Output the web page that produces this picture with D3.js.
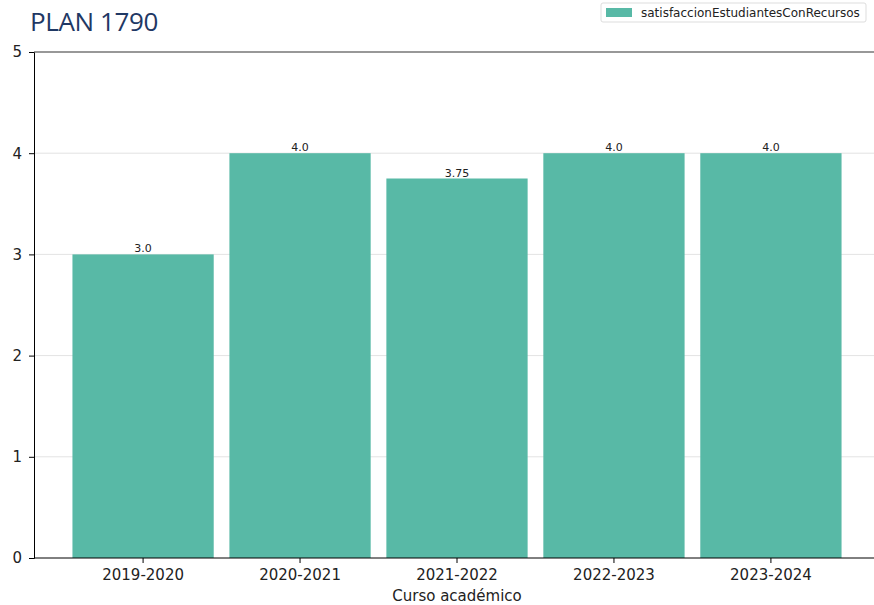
<!DOCTYPE html>
<html>
<head>
<meta charset="utf-8">
<script src="https://cdn.jsdelivr.net/npm/d3@7"></script>
<style>
  html, body { margin: 0; padding: 0; background: #fff; }
  svg { display: block; }
</style>
</head>
<body>
<svg id="chart" width="874" height="605"></svg>
<script>
// Satisfacción de estudiantes con recursos, por curso académico
const cursos = ["2019-2020", "2020-2021", "2021-2022", "2022-2023", "2023-2024"];
const satisfaccion = [3.0, 4.0, 3.75, 4.0, 4.0];
const valueLabels = ["3.0", "4.0", "3.75", "4.0", "4.0"];
const yTicks = [0, 1, 2, 3, 4, 5];
const seriesName = "satisfaccionEstudiantesConRecursos";
const titulo = "PLAN 1790";
const xTitle = "Curso académico";

const barColor = "#58b9a6";
const svg = d3.select("#chart");

const plot = { left: 34, right: 880, top: 52, bottom: 558 };

// continuous x in category units (matplotlib-style margins), band scale on top of it
const xc = d3.scaleLinear().domain([-0.695, 4.695]).range([plot.left, plot.right]);
const x = d3.scaleBand()
  .domain(cursos)
  .range([xc(-0.5), xc(4.5)])
  .paddingInner(0.1)
  .paddingOuter(0.05);

const y = d3.scaleLinear().domain([0, 5]).range([plot.bottom, plot.top]);

// horizontal grid
svg.append("g")
  .selectAll("line")
  .data(yTicks.filter(t => t > 0 && t < 5))
  .join("line")
  .attr("x1", plot.left).attr("x2", plot.right)
  .attr("y1", d => y(d)).attr("y2", d => y(d))
  .attr("stroke", "#e3e3e3").attr("stroke-width", 1);

// bars
svg.append("g")
  .selectAll("rect")
  .data(cursos)
  .join("rect")
  .attr("x", d => x(d))
  .attr("width", x.bandwidth())
  .attr("y", (d, i) => y(satisfaccion[i]))
  .attr("height", (d, i) => y(0) - y(satisfaccion[i]))
  .attr("fill", barColor);

// value labels
svg.append("g")
  .selectAll("text")
  .data(cursos)
  .join("text")
  .attr("x", d => x(d) + x.bandwidth() / 2)
  .attr("y", (d, i) => y(satisfaccion[i]) - 2)
  .attr("text-anchor", "middle")
  .attr("font-family", "DejaVu Sans, sans-serif")
  .attr("font-size", 11)
  .attr("fill", "#222")
  .text((d, i) => valueLabels[i]);

// y axis
const yAxis = svg.append("g")
  .attr("transform", `translate(${plot.left},0)`)
  .call(d3.axisLeft(y).tickValues(yTicks).tickFormat(d3.format("d")).tickSize(5).tickPadding(7));
yAxis.select(".domain").attr("stroke", "#000");
yAxis.selectAll("text").attr("font-family", "DejaVu Sans, sans-serif").attr("font-size", 15).attr("fill", "#222");

// x axis
const xAxis = svg.append("g")
  .attr("transform", `translate(0,${plot.bottom})`)
  .call(d3.axisBottom(x).tickSize(5).tickPadding(6).tickSizeOuter(0));
xAxis.select(".domain").remove();
xAxis.append("line").attr("x1", plot.left).attr("x2", plot.right).attr("stroke", "#000");
xAxis.selectAll("text").attr("font-family", "DejaVu Sans, sans-serif").attr("font-size", 15).attr("fill", "#222");

// top spine
svg.append("line")
  .attr("x1", plot.left).attr("x2", plot.right)
  .attr("y1", plot.top).attr("y2", plot.top)
  .attr("stroke", "#333").attr("stroke-width", 1.2);

// x title
svg.append("text")
  .attr("x", xc(2)).attr("y", 601)
  .attr("text-anchor", "middle")
  .attr("font-family", "DejaVu Sans, sans-serif")
  .attr("font-size", 15)
  .attr("fill", "#222")
  .text(xTitle);

// chart title
svg.append("text")
  .attr("x", 30).attr("y", 31)
  .attr("font-family", "Open Sans, sans-serif")
  .attr("font-size", 26)
  .attr("letter-spacing", -0.4)
  .attr("fill", "#1f3864")
  .text(titulo);

// legend
const lg = svg.append("g").attr("transform", "translate(601,3)");
lg.append("rect")
  .attr("width", 265).attr("height", 19).attr("rx", 2)
  .attr("fill", "#fff").attr("stroke", "#ddd");
lg.append("rect")
  .attr("x", 5).attr("y", 5).attr("width", 26).attr("height", 9)
  .attr("fill", barColor);
lg.append("text")
  .attr("x", 40).attr("y", 14)
  .attr("font-family", "DejaVu Sans, sans-serif")
  .attr("font-size", 12)
  .attr("fill", "#222")
  .text(seriesName);
</script>
</body>
</html>
